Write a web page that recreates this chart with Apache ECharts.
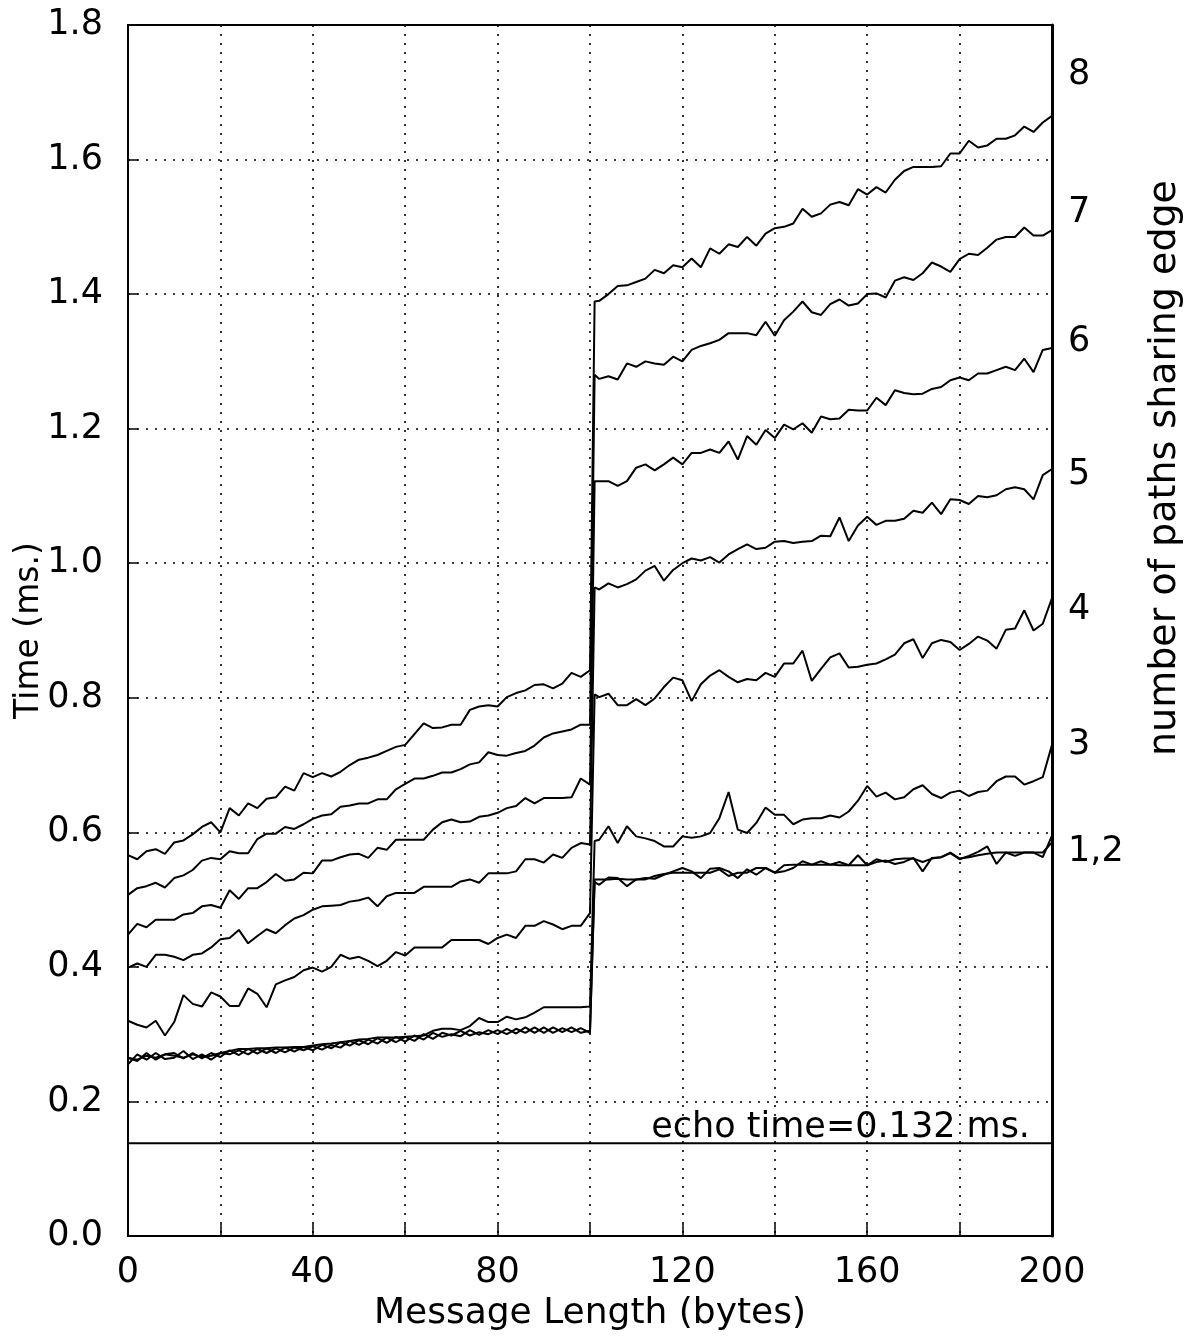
<!DOCTYPE html>
<html>
<head>
<meta charset="utf-8">
<script src="https://cdn.jsdelivr.net/npm/echarts@6/dist/echarts.min.js"></script>
<style>
html,body{margin:0;padding:0;background:#fff;}
#chart{width:1191px;height:1340px;}
</style>
</head>
<body>
<div id="chart"></div>
<script>
// Message length sample positions (bytes): 0..100 step 2, then 101, 102..200 step 2
var bytes = [0,2,4,6,8,10,12,14,16,18,20,22,24,26,28,30,32,34,36,38,40,42,44,46,48,50,52,54,56,58,60,62,64,66,68,70,72,74,76,78,80,82,84,86,88,90,92,94,96,98,100,
  101,102,104,106,108,110,112,114,116,118,120,122,124,126,128,130,132,134,136,138,140,142,144,146,148,150,152,154,156,158,160,162,164,166,168,170,172,174,176,178,180,182,184,186,188,190,192,194,196,198,200];

var s1 = [0.255,0.270,0.262,0.272,0.263,0.265,0.275,0.263,0.270,0.262,0.272,0.270,0.276,0.270,0.278,0.272,0.279,0.273,0.280,0.276,0.282,0.277,0.284,0.280,0.290,0.284,0.292,0.286,0.295,0.288,0.296,0.290,0.300,0.293,0.302,0.298,0.305,0.298,0.303,0.300,0.306,0.300,0.308,0.302,0.310,0.302,0.310,0.303,0.310,0.302,0.305,
  0.526,0.522,0.533,0.532,0.520,0.530,0.532,0.531,0.537,0.542,0.547,0.542,0.532,0.546,0.547,0.542,0.532,0.545,0.537,0.547,0.540,0.542,0.547,0.557,0.552,0.557,0.552,0.556,0.551,0.566,0.551,0.556,0.558,0.553,0.556,0.562,0.542,0.562,0.563,0.569,0.560,0.565,0.571,0.579,0.553,0.570,0.565,0.570,0.570,0.563,0.595];

var s2 = [0.265,0.260,0.272,0.262,0.270,0.272,0.264,0.272,0.264,0.272,0.266,0.276,0.269,0.278,0.271,0.279,0.272,0.280,0.274,0.281,0.276,0.284,0.279,0.288,0.283,0.291,0.285,0.294,0.287,0.296,0.289,0.298,0.292,0.302,0.296,0.300,0.297,0.306,0.299,0.306,0.300,0.308,0.301,0.310,0.302,0.310,0.302,0.309,0.303,0.309,0.302,
  0.530,0.530,0.530,0.531,0.530,0.530,0.530,0.535,0.538,0.540,0.540,0.540,0.540,0.540,0.545,0.535,0.540,0.540,0.547,0.547,0.540,0.551,0.552,0.552,0.552,0.552,0.552,0.551,0.551,0.551,0.551,0.560,0.556,0.560,0.561,0.561,0.556,0.561,0.563,0.570,0.561,0.563,0.566,0.568,0.570,0.570,0.570,0.570,0.570,0.570,0.585];

var s3 = [0.265,0.262,0.268,0.265,0.270,0.268,0.265,0.270,0.266,0.268,0.272,0.275,0.278,0.278,0.279,0.279,0.280,0.280,0.281,0.281,0.283,0.285,0.286,0.288,0.290,0.292,0.293,0.295,0.295,0.295,0.296,0.297,0.298,0.305,0.308,0.308,0.306,0.312,0.324,0.318,0.318,0.326,0.322,0.325,0.332,0.340,0.340,0.340,0.340,0.340,0.341,
  0.587,0.589,0.609,0.584,0.609,0.594,0.591,0.587,0.579,0.579,0.594,0.592,0.594,0.599,0.621,0.660,0.604,0.599,0.614,0.637,0.626,0.626,0.612,0.619,0.621,0.621,0.625,0.622,0.631,0.647,0.669,0.653,0.659,0.649,0.652,0.664,0.670,0.657,0.651,0.659,0.662,0.654,0.660,0.662,0.676,0.683,0.683,0.671,0.676,0.682,0.730];

var s4 = [0.320,0.314,0.310,0.320,0.298,0.318,0.358,0.345,0.341,0.362,0.356,0.342,0.342,0.368,0.360,0.340,0.374,0.380,0.385,0.395,0.399,0.393,0.400,0.418,0.412,0.415,0.409,0.401,0.409,0.422,0.417,0.429,0.429,0.429,0.429,0.440,0.440,0.440,0.440,0.434,0.443,0.448,0.443,0.461,0.461,0.468,0.463,0.456,0.461,0.461,0.480,
  0.805,0.801,0.806,0.789,0.789,0.798,0.789,0.799,0.816,0.830,0.826,0.795,0.820,0.833,0.841,0.831,0.823,0.828,0.826,0.837,0.831,0.851,0.851,0.870,0.825,0.843,0.860,0.866,0.845,0.846,0.849,0.851,0.857,0.864,0.881,0.887,0.859,0.881,0.886,0.883,0.871,0.880,0.891,0.885,0.873,0.901,0.903,0.930,0.900,0.910,0.948];

var s5 = [0.399,0.405,0.400,0.418,0.418,0.415,0.410,0.418,0.420,0.429,0.441,0.443,0.455,0.435,0.446,0.456,0.450,0.462,0.472,0.477,0.485,0.490,0.491,0.492,0.497,0.499,0.503,0.490,0.505,0.510,0.510,0.510,0.519,0.519,0.519,0.519,0.527,0.530,0.525,0.539,0.539,0.539,0.542,0.560,0.560,0.555,0.567,0.562,0.577,0.584,0.582,
  0.964,0.961,0.970,0.964,0.969,0.976,0.989,0.996,0.974,0.990,1.000,1.007,1.004,1.009,1.001,1.013,1.021,1.028,1.021,1.023,1.032,1.033,1.030,1.032,1.033,1.041,1.040,1.068,1.033,1.056,1.069,1.057,1.063,1.063,1.066,1.078,1.075,1.090,1.073,1.095,1.094,1.088,1.100,1.098,1.101,1.110,1.113,1.110,1.095,1.131,1.140];

var s6 = [0.448,0.464,0.459,0.470,0.470,0.470,0.478,0.480,0.490,0.492,0.488,0.514,0.501,0.517,0.517,0.526,0.538,0.528,0.530,0.540,0.539,0.558,0.558,0.563,0.567,0.568,0.562,0.577,0.574,0.589,0.589,0.589,0.589,0.604,0.615,0.619,0.615,0.616,0.623,0.625,0.629,0.636,0.639,0.651,0.643,0.651,0.651,0.651,0.652,0.680,0.671,
  1.122,1.122,1.122,1.115,1.122,1.142,1.147,1.138,1.147,1.157,1.147,1.164,1.164,1.169,1.164,1.181,1.154,1.189,1.176,1.198,1.186,1.206,1.199,1.208,1.194,1.218,1.214,1.215,1.228,1.227,1.227,1.246,1.235,1.257,1.253,1.251,1.252,1.259,1.262,1.272,1.276,1.272,1.282,1.282,1.287,1.292,1.287,1.304,1.284,1.317,1.320];

var s7 = [0.507,0.517,0.520,0.525,0.518,0.532,0.536,0.544,0.558,0.562,0.560,0.572,0.569,0.569,0.590,0.598,0.598,0.608,0.605,0.612,0.620,0.625,0.627,0.638,0.640,0.643,0.643,0.649,0.649,0.664,0.672,0.680,0.680,0.684,0.689,0.689,0.694,0.701,0.704,0.719,0.715,0.714,0.718,0.721,0.729,0.741,0.747,0.750,0.753,0.760,0.760,
  1.280,1.274,1.278,1.273,1.297,1.292,1.300,1.297,1.295,1.307,1.300,1.317,1.323,1.327,1.332,1.342,1.342,1.342,1.339,1.359,1.338,1.361,1.374,1.389,1.373,1.369,1.385,1.392,1.383,1.386,1.400,1.401,1.395,1.420,1.425,1.421,1.431,1.447,1.441,1.433,1.452,1.460,1.458,1.469,1.481,1.485,1.485,1.499,1.487,1.487,1.495];

var s8 = [0.566,0.560,0.572,0.575,0.568,0.585,0.588,0.597,0.608,0.615,0.600,0.636,0.625,0.643,0.636,0.650,0.652,0.668,0.662,0.688,0.682,0.688,0.683,0.690,0.700,0.708,0.711,0.715,0.721,0.727,0.730,0.746,0.762,0.755,0.756,0.760,0.760,0.782,0.787,0.789,0.787,0.801,0.807,0.811,0.819,0.820,0.814,0.821,0.837,0.831,0.841,
  1.389,1.390,1.400,1.412,1.413,1.418,1.423,1.436,1.431,1.443,1.440,1.453,1.440,1.468,1.460,1.474,1.470,1.485,1.472,1.490,1.498,1.500,1.505,1.527,1.515,1.520,1.533,1.537,1.532,1.556,1.548,1.559,1.551,1.570,1.583,1.589,1.589,1.589,1.590,1.609,1.609,1.628,1.618,1.621,1.631,1.631,1.636,1.649,1.641,1.655,1.665];

var echoValue = 0.138;
var echoText = 'echo time=0.132 ms.';

var pathLabels = ['8','7','6','5','4','3','1,2'];
var pathLabelY = [1.726,1.521,1.329,1.131,0.931,0.730,0.571];

var xTickLabels = ['0','40','80','120','160','200'];
var rightTitle = 'number of paths sharing edge';

var FONT = 'DejaVu Sans';
var allSeries = [s1,s2,s3,s4,s5,s6,s7,s8];

function pairs(vals){ return bytes.map(function(b,i){ return [b, vals[i]]; }); }

var series = allSeries.map(function(vals, k){
  return {
    type:'line', name:'s'+(k+1), data:pairs(vals), showSymbol:false, symbol:'none',
    lineStyle:{color:'#000', width:2}, animation:false, z:3
  };
});

series.push({
  type:'line', name:'echo',
  data:[[0, echoValue],[200, echoValue]],
  showSymbol:false, symbol:'none', lineStyle:{color:'#000', width:2}, animation:false
});

// text annotations anchored to data coordinates
series.push({
  type:'scatter', name:'echoLabel',
  data:[{value:[200, echoValue], name:echoText}],
  symbolSize:0, silent:true, animation:false, clip:false,
  itemStyle:{opacity:1},
  label:{show:true, position:'top', distance:0, align:'right', offset:[-22,2], formatter:'{b}', fontFamily:FONT, fontSize:35, color:'#000', opacity:1}
});

series.push({
  type:'scatter', name:'paths',
  data: pathLabelY.map(function(y,i){ return {value:[200,y], name:pathLabels[i]}; }),
  symbolSize:0, silent:true, animation:false, clip:false,
  itemStyle:{opacity:1},
  label:{show:true, position:'right', distance:16, formatter:'{b}', fontFamily:FONT, fontSize:35, color:'#000', opacity:1}
});

var dotted = {show:true, lineStyle:{type:[2,7], color:'#000', width:1.6}};

var chart = echarts.init(document.getElementById('chart'), null, {renderer:'canvas'});
chart.setOption({
  backgroundColor:'#fff',
  animation:false,
  grid:{left:128, right:139, top:25, bottom:104, containLabel:false, outerBoundsMode:'none',
        show:true, borderColor:'#000', borderWidth:2, backgroundColor:'transparent'},
  xAxis:{
    type:'value', min:0, max:200, interval:20,
    axisLine:{show:true, onZero:false, lineStyle:{color:'#000', width:2}},
    axisTick:{show:true, inside:true, length:12, lineStyle:{color:'#000', width:1.5}},
    axisLabel:{color:'#000', fontFamily:FONT, fontSize:35, margin:19,
      formatter:function(v){ var s=String(v); return xTickLabels.indexOf(s)>=0 ? s : ''; }},
    splitLine:dotted,
    name:'Message Length (bytes)', nameLocation:'middle', nameGap:60, nameMoveOverlap:false,
    nameTextStyle:{color:'#000', fontFamily:FONT, fontSize:36}
  },
  yAxis:[{
    type:'value', min:0, max:1.8, interval:0.2,
    axisLine:{show:true, lineStyle:{color:'#000', width:2}},
    axisTick:{show:true, inside:true, length:10, lineStyle:{color:'#000', width:1.5}},
    axisLabel:{color:'#000', fontFamily:FONT, fontSize:35, margin:25, formatter:function(v){ return v.toFixed(1); }},
    splitLine:dotted,
    name:'Time (ms.)', nameLocation:'middle', nameGap:82, nameRotate:90, nameMoveOverlap:false,
    nameTextStyle:{color:'#000', fontFamily:FONT, fontSize:33}
  },{
    type:'value', min:0, max:1.8, interval:0.2, position:'right',
    axisLine:{show:true, lineStyle:{color:'#000', width:3}},
    axisTick:{show:false}, axisLabel:{show:false}, splitLine:{show:false}
  }],
  graphic:[{
    type:'text', x:1165, y:468, rotation:Math.PI/2,
    style:{text:rightTitle, fill:'#000', font:'38px "DejaVu Sans"', textAlign:'center', textVerticalAlign:'middle'}
  }],
  series:series
});
</script>
</body>
</html>
